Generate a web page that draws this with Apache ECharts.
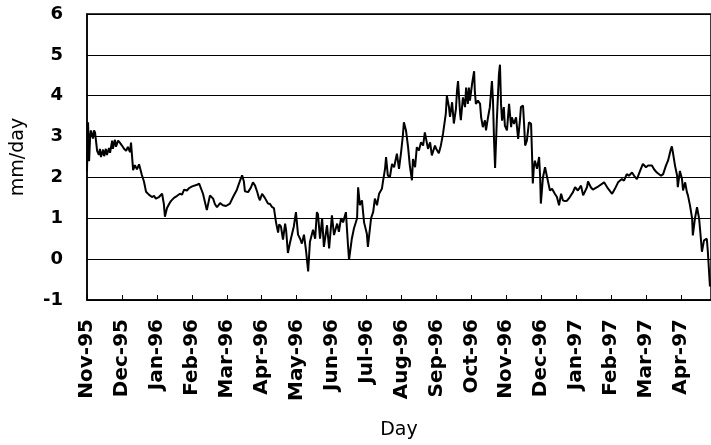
<!DOCTYPE html>
<html>
<head>
<meta charset="utf-8">
<title>mm/day</title>
<script src="https://cdn.jsdelivr.net/npm/echarts@6/dist/echarts.min.js"></script>
<style>
  html, body { margin: 0; padding: 0; background: #fff; }
  #chart { width: 711px; height: 445px; }
</style>
</head>
<body>
<div id="chart"></div>
<script>
// month labels, one per tick (0 = Nov-95)
const monthLabels = ['Nov-95', 'Dec-95', 'Jan-96', 'Feb-96', 'Mar-96', 'Apr-96', 'May-96', 'Jun-96', 'Jul-96',
  'Aug-96', 'Sep-96', 'Oct-96', 'Nov-96', 'Dec-96', 'Jan-97', 'Feb-97', 'Mar-97', 'Apr-97'];

// x position in months since start of Nov-95
const monthPos = [
  0.00, 0.03, 0.06, 0.09, 0.11, 0.14, 0.17, 0.20, 0.23, 0.29, 0.34, 0.37, 0.40, 0.46, 0.49, 0.54, 0.57, 0.63, 0.66, 0.72,
  0.74, 0.80, 0.83, 0.89, 0.94, 1.00, 1.06, 1.12, 1.17, 1.23, 1.26, 1.32, 1.37, 1.43, 1.49, 1.57, 1.63, 1.69, 1.77, 1.86,
  1.92, 1.97, 2.06, 2.15, 2.20, 2.23, 2.29, 2.35, 2.40, 2.49, 2.58, 2.66, 2.72, 2.78, 2.86, 2.92, 3.01, 3.06, 3.15, 3.21,
  3.32, 3.43, 3.52, 3.61, 3.66, 3.72, 3.81, 3.89, 3.98, 4.09, 4.18, 4.29, 4.38, 4.44, 4.49, 4.52, 4.61, 4.69, 4.75, 4.81,
  4.87, 4.92, 4.95, 5.01, 5.09, 5.18, 5.24, 5.29, 5.35, 5.41, 5.47, 5.50, 5.55, 5.61, 5.67, 5.70, 5.75, 5.81, 5.87, 5.92,
  5.98, 6.04, 6.10, 6.15, 6.21, 6.27, 6.33, 6.38, 6.47, 6.53, 6.58, 6.61, 6.67, 6.73, 6.78, 6.87, 6.93, 7.01, 7.07, 7.16,
  7.21, 7.27, 7.33, 7.41, 7.47, 7.50, 7.58, 7.64, 7.73, 7.76, 7.81, 7.87, 7.93, 8.01, 8.04, 8.13, 8.19, 8.24, 8.30, 8.36,
  8.44, 8.47, 8.53, 8.56, 8.61, 8.67, 8.73, 8.79, 8.87, 8.93, 8.99, 9.04, 9.07, 9.13, 9.19, 9.24, 9.30, 9.33, 9.39, 9.44,
  9.50, 9.56, 9.62, 9.67, 9.76, 9.82, 9.87, 9.96, 9.99, 10.07, 10.13, 10.19, 10.27, 10.30, 10.36, 10.39, 10.45, 10.50, 10.56, 10.59,
  10.62, 10.68, 10.70, 10.76, 10.82, 10.85, 10.90, 10.93, 10.96, 11.02, 11.08, 11.10, 11.13, 11.19, 11.25, 11.28, 11.33, 11.39, 11.42, 11.48,
  11.53, 11.59, 11.62, 11.65, 11.68, 11.73, 11.79, 11.82, 11.85, 11.88, 11.93, 11.96, 12.02, 12.08, 12.14, 12.16, 12.22, 12.28, 12.34, 12.39,
  12.42, 12.48, 12.51, 12.54, 12.59, 12.65, 12.71, 12.74, 12.76, 12.79, 12.82, 12.88, 12.94, 12.97, 12.99, 13.05, 13.11, 13.17, 13.25, 13.31,
  13.39, 13.45, 13.51, 13.57, 13.62, 13.68, 13.74, 13.82, 13.91, 13.97, 14.05, 14.14, 14.20, 14.31, 14.34, 14.42, 14.48, 14.60, 14.65, 14.80,
  14.91, 15.03, 15.11, 15.20, 15.31, 15.37, 15.45, 15.51, 15.60, 15.66, 15.74, 15.83, 15.91, 16.00, 16.06, 16.17, 16.23, 16.31, 16.43, 16.49,
  16.57, 16.63, 16.71, 16.74, 16.77, 16.83, 16.89, 16.91, 16.97, 17.03, 17.06, 17.12, 17.17, 17.20, 17.26, 17.32, 17.34, 17.40, 17.46, 17.52,
  17.57, 17.60, 17.66, 17.74, 17.77, 17.83
];

// daily rate, mm/day
const mmPerDay = [
  2.15, 3.35, 2.4, 3.0, 3.15, 3.05, 2.95, 3.15, 3.1, 2.65, 2.55, 2.7, 2.5, 2.68, 2.52, 2.7, 2.55, 2.72, 2.6, 2.9,
  2.7, 2.92, 2.75, 2.9, 2.85, 2.78, 2.7, 2.65, 2.75, 2.62, 2.85, 2.18, 2.3, 2.2, 2.32, 2.06, 1.9, 1.65, 1.58, 1.52,
  1.55, 1.48, 1.52, 1.6, 1.35, 1.04, 1.25, 1.35, 1.42, 1.5, 1.55, 1.6, 1.58, 1.7, 1.68, 1.74, 1.78, 1.74, 1.82, 1.85,
  1.6, 1.2, 1.56, 1.48, 1.35, 1.27, 1.37, 1.32, 1.3, 1.36, 1.52, 1.7, 1.92, 2.05, 1.9, 1.66, 1.64, 1.75, 1.88, 1.8,
  1.65, 1.5, 1.44, 1.6, 1.5, 1.36, 1.35, 1.28, 1.25, 0.9, 0.65, 0.85, 0.8, 0.48, 0.87, 0.7, 0.15, 0.4, 0.62, 0.8,
  1.15, 0.6, 0.5, 0.38, 0.6, 0.2, -0.3, 0.42, 0.72, 0.5, 1.15, 1.1, 0.5, 1.0, 0.3, 0.83, 0.26, 1.07, 0.59, 0.87,
  0.67, 1.0, 0.9, 1.15, 0.34, -0.02, 0.5, 0.75, 1.0, 1.76, 1.32, 1.44, 0.9, 0.62, 0.3, 1.0, 1.15, 1.48, 1.32, 1.6,
  1.72, 1.89, 2.21, 2.5, 2.05, 2.01, 2.33, 2.25, 2.58, 2.21, 2.62, 3.02, 3.35, 3.15, 2.74, 2.29, 1.93, 2.45, 2.25, 2.74,
  2.66, 2.86, 2.78, 3.1, 2.7, 2.86, 2.54, 2.78, 2.71, 2.59, 2.79, 3.07, 3.56, 4.0, 3.72, 3.48, 3.84, 3.32, 3.68, 4.12,
  4.36, 3.56, 3.4, 3.96, 3.72, 4.2, 3.8, 4.2, 3.88, 4.28, 4.6, 4.12, 3.8, 3.88, 3.8, 3.48, 3.23, 3.4, 3.15, 3.48,
  3.72, 4.36, 3.88, 2.91, 2.23, 3.4, 4.52, 4.76, 3.8, 3.39, 3.72, 3.27, 3.15, 3.8, 3.23, 3.47, 3.31, 3.47, 2.94, 3.39,
  3.72, 3.76, 3.31, 2.78, 2.9, 3.35, 3.31, 2.5, 1.85, 2.25, 2.41, 2.21, 2.5, 2.0, 1.36, 2.0, 2.25, 2.0, 1.68, 1.72,
  1.6, 1.52, 1.32, 1.6, 1.44, 1.42, 1.43, 1.52, 1.64, 1.76, 1.68, 1.8, 1.56, 1.76, 1.9, 1.76, 1.7, 1.76, 1.8, 1.88,
  1.73, 1.6, 1.72, 1.88, 1.96, 1.92, 2.08, 2.04, 2.12, 2.04, 1.96, 2.16, 2.33, 2.25, 2.29, 2.29, 2.2, 2.12, 2.04, 2.08,
  2.29, 2.41, 2.69, 2.76, 2.61, 2.29, 2.04, 1.76, 2.16, 1.96, 1.68, 1.88, 1.64, 1.56, 1.31, 0.99, 0.58, 0.99, 1.27, 0.99,
  0.5, 0.18, 0.46, 0.5, 0.18, -0.67
];

// y ticks
const yMin = -1;
const yMax = 6;
const xEnd = 17.86;

const seriesData = monthPos.map((m, i) => [m, mmPerDay[i]]);

const chart = echarts.init(document.getElementById('chart'), null, { renderer: 'canvas' });

const option = {
  backgroundColor: '#fff',
  animation: false,
  grid: {
    left: 87,
    right: 0,
    top: 14,
    bottom: 143,
    show: true,
    borderColor: '#000',
    borderWidth: 1.5,
  },
  xAxis: {
    type: 'value',
    min: 0,
    max: xEnd,
    interval: 1,
    name: 'Day',
    nameLocation: 'middle',
    nameGap: 121,
    nameTextStyle: { fontFamily: 'DejaVu Sans', fontSize: 19, color: '#000' },
    axisLine: { show: true, onZero: false, lineStyle: { color: '#000', width: 1.5 } },
    axisTick: { show: true, inside: true, length: 5, lineStyle: { color: '#000' } },
    splitLine: { show: false },
    axisLabel: {
      rotate: 90,
      margin: 19,
      showMaxLabel: false,
      fontFamily: 'DejaVu Sans',
      fontWeight: 'bold',
      fontSize: 20,
      color: '#000',
      formatter: (v) => (Number.isInteger(v) && monthLabels[v] ? monthLabels[v] : ''),
    },
  },
  yAxis: {
    type: 'value',
    min: yMin,
    max: yMax,
    interval: 1,
    name: 'mm/day',
    nameLocation: 'middle',
    nameRotate: 90,
    nameGap: 59,
    nameTextStyle: { fontFamily: 'DejaVu Sans', fontSize: 19, color: '#000' },
    axisLine: { show: true, lineStyle: { color: '#000', width: 1.5 } },
    axisTick: { show: false },
    splitLine: { show: true, lineStyle: { color: '#000', width: 1 } },
    axisLabel: {
      margin: 24,
      fontFamily: 'DejaVu Sans',
      fontWeight: 'bold',
      fontSize: 18,
      color: '#000',
    },
  },
  series: [
    {
      type: 'line',
      data: seriesData,
      showSymbol: false,
      symbol: 'none',
      smooth: false,
      lineStyle: { color: '#000', width: 2 },
    },
  ],
};

chart.setOption(option);
</script>
</body>
</html>
